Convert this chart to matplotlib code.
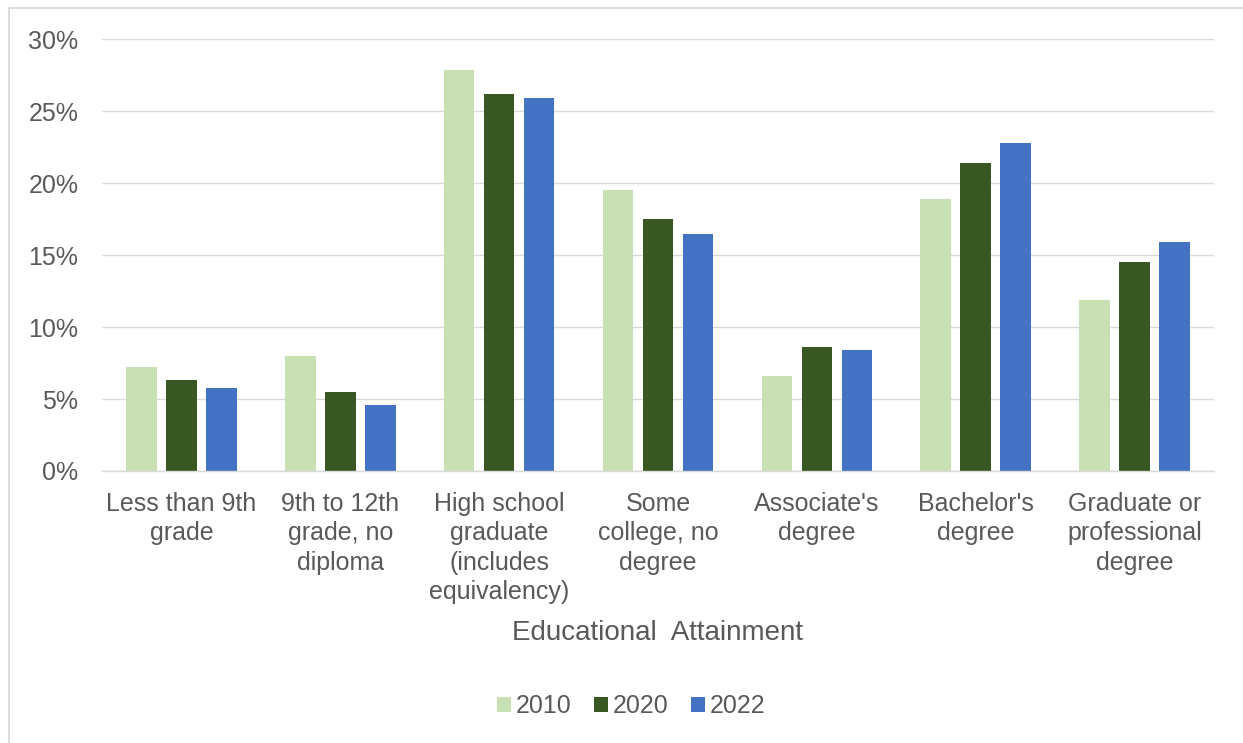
import matplotlib
matplotlib.use("Agg")
import matplotlib.pyplot as plt
from matplotlib.patches import Patch, Rectangle
import numpy as np

categories = [
    "Less than 9th\ngrade",
    "9th to 12th\ngrade, no\ndiploma",
    "High school\ngraduate\n(includes\nequivalency)",
    "Some\ncollege, no\ndegree",
    "Associate's\ndegree",
    "Bachelor's\ndegree",
    "Graduate or\nprofessional\ndegree",
]
years = ["2010", "2020", "2022"]
share_2010 = [7.2, 8.0, 27.9, 19.5, 6.6, 18.9, 11.9]
share_2020 = [6.3, 5.5, 26.2, 17.5, 8.6, 21.4, 14.5]
share_2022 = [5.8, 4.6, 25.9, 16.5, 8.4, 22.8, 15.9]
y_ticks = [0, 5, 10, 15, 20, 25, 30]
x_title = "Educational  Attainment"

colors = ["#C8E0B4", "#385723", "#4472C4"]
text_color = "#595959"
grid_color = "#D9D9D9"

plt.rcParams["font.family"] = ["Liberation Sans", "DejaVu Sans"]

fig = plt.figure(figsize=(12.43, 7.43), dpi=100)
ax = fig.add_axes([102 / 1243, 272 / 743, 1112 / 1243, 431.7 / 743])

x = np.arange(len(categories))
step = 0.252
width = 0.192
for i, (vals, col, yr) in enumerate(zip([share_2010, share_2020, share_2022], colors, years)):
    ax.bar(x + (i - 1) * step, vals, width=width, color=col, label=yr, zorder=3)

ax.set_xlim(-0.5, len(categories) - 0.5)
ax.set_ylim(0, 30)
ax.set_yticks(y_ticks)
ax.set_yticklabels([f"{t}%" for t in y_ticks])
ax.set_xticks(x)
ax.set_xticklabels(categories, linespacing=1.29)

ax.grid(axis="y", color=grid_color, linewidth=1.0, zorder=0)
ax.set_axisbelow(True)
for side in ["top", "right", "left"]:
    ax.spines[side].set_visible(False)
ax.spines["bottom"].set_color(grid_color)
ax.spines["bottom"].set_linewidth(1.0)
ax.spines["bottom"].set_zorder(4)

ax.tick_params(axis="both", length=0, labelsize=18, labelcolor=text_color)
ax.tick_params(axis="y", pad=17)
ax.tick_params(axis="x", pad=15)

fig.text(658 / 1243, (743 - 633) / 743, x_title, ha="center", va="center",
         fontsize=20, color=text_color)

handles = [Patch(facecolor=c, edgecolor="none") for c in colors]
fig.legend(handles, years, loc="center", bbox_to_anchor=(631 / 1243, 37 / 743),
           ncol=3, frameon=False, fontsize=18, labelcolor=text_color,
           handlelength=0.55, handleheight=0.55, handletextpad=0.2,
           columnspacing=0.9, borderpad=0)

# outer chart frame
fig.patches.append(Rectangle((8.5 / 1243, -0.05), 1.2, (743 - 7.5) / 743 + 0.05,
                             transform=fig.transFigure, fill=False,
                             edgecolor=grid_color, linewidth=1.3))

fig.savefig("out.png", dpi=100, facecolor="white")
